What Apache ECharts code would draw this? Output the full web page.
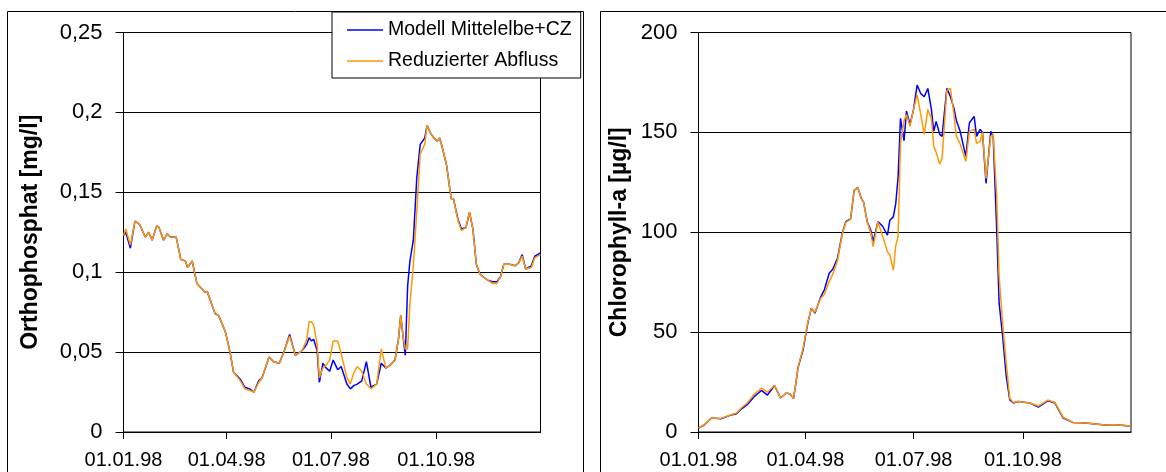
<!DOCTYPE html>
<html>
<head>
<meta charset="utf-8">
<title>Orthophosphat / Chlorophyll-a</title>
<script src="https://cdn.jsdelivr.net/npm/echarts/dist/echarts.min.js"></script>
<style>
    html,body{margin:0;padding:0;background:#fff;}
    #main{width:1166px;height:472px;}
</style>
</head>
<body>
<div id="main"></div>
<script>
// x-Achse: Tag im Jahr 1998 (0 = 01.01.98)
var tickDays = [0, 90, 181, 273];
var tickLabels = ['01.01.98', '01.04.98', '01.07.98', '01.10.98'];
var seriesNames = ['Modell Mittelelbe+CZ', 'Reduzierter Abfluss'];

// Orthophosphat [mg/l]
var phDays = [0, 2, 6, 10, 14, 19, 22, 25, 29, 31, 35, 38, 41, 46, 50, 54, 56, 60, 64, 68, 71, 73, 80, 83, 89, 93, 96, 102, 106, 110, 114, 118, 121, 127, 131, 136, 140, 145, 150, 156, 160, 162, 164, 166, 169, 171, 174, 177, 180, 183, 187, 190, 195, 198, 201, 204, 208, 212, 216, 221, 225, 229, 233, 237, 240, 242, 244, 246, 248, 250, 253, 256, 259, 263, 265, 268, 271, 274, 276, 279, 282, 286, 288, 292, 295, 299, 302, 305, 308, 311, 314, 318, 322, 326, 329, 332, 337, 342, 345, 348, 351, 356, 359, 364];
var phModell = [0.123, 0.125, 0.115, 0.132, 0.130, 0.122, 0.125, 0.120, 0.129, 0.128, 0.120, 0.124, 0.122, 0.122, 0.108, 0.107, 0.103, 0.107, 0.093, 0.090, 0.0875, 0.088, 0.074, 0.073, 0.0625, 0.050, 0.0375, 0.033, 0.028, 0.027, 0.025, 0.032, 0.034, 0.047, 0.044, 0.043, 0.050, 0.061, 0.048, 0.051, 0.055, 0.059, 0.057, 0.058, 0.051, 0.031, 0.043, 0.040, 0.038, 0.045, 0.039, 0.041, 0.030, 0.027, 0.029, 0.030, 0.032, 0.044, 0.028, 0.030, 0.043, 0.040, 0.042, 0.045, 0.058, 0.073, 0.060, 0.048, 0.091, 0.107, 0.120, 0.159, 0.180, 0.184, 0.192, 0.187, 0.184, 0.182, 0.184, 0.176, 0.167, 0.146, 0.146, 0.133, 0.127, 0.128, 0.1375, 0.127, 0.105, 0.099, 0.097, 0.095, 0.094, 0.094, 0.097, 0.105, 0.105, 0.104, 0.106, 0.111, 0.102, 0.104, 0.110, 0.112];
var phReduziert = [0.123, 0.127, 0.117, 0.132, 0.130, 0.122, 0.125, 0.120, 0.129, 0.128, 0.120, 0.124, 0.122, 0.122, 0.108, 0.107, 0.103, 0.107, 0.093, 0.090, 0.0875, 0.088, 0.074, 0.073, 0.0625, 0.050, 0.0375, 0.032, 0.027, 0.026, 0.025, 0.031, 0.034, 0.047, 0.044, 0.043, 0.050, 0.060, 0.048, 0.051, 0.058, 0.069, 0.069, 0.067, 0.055, 0.034, 0.040, 0.042, 0.045, 0.057, 0.057, 0.049, 0.034, 0.030, 0.037, 0.041, 0.038, 0.030, 0.027, 0.030, 0.052, 0.040, 0.042, 0.045, 0.058, 0.073, 0.060, 0.052, 0.052, 0.080, 0.104, 0.138, 0.174, 0.180, 0.192, 0.187, 0.184, 0.182, 0.184, 0.176, 0.167, 0.146, 0.146, 0.132, 0.126, 0.128, 0.1375, 0.127, 0.105, 0.099, 0.097, 0.095, 0.093, 0.093, 0.097, 0.105, 0.105, 0.104, 0.106, 0.110, 0.102, 0.103, 0.109, 0.111];

// Chlorophyll-a [µg/l]
var chlDays = [0, 5, 11, 19, 26, 32, 36, 41, 47, 53, 58, 64, 69, 74, 77, 80, 84, 88, 92, 95, 98, 103, 106, 110, 113, 117, 121, 124, 128, 131, 134, 137, 139, 142, 145, 147, 151, 155, 159, 161, 164, 166, 168, 170, 173, 175, 178, 181, 184, 187, 190, 193, 196, 198, 200, 203, 205, 209, 212, 215, 217, 220, 225, 228, 232, 234, 237, 239, 242, 246, 248, 251, 253, 256, 259, 262, 265, 269, 279, 286, 294, 300, 307, 315, 326, 342, 350, 364];
var chlModell = [2, 3.6, 7, 6.6, 8.2, 9.1, 11.5, 13.7, 17.8, 20.8, 18.5, 23.3, 17, 19.5, 19, 16.7, 32.8, 41, 54.5, 62, 59.5, 67.8, 71.3, 79.5, 81.5, 87, 99.5, 105.3, 106.7, 121, 122.5, 117, 115, 105.3, 101, 95.3, 105.3, 103, 98.5, 106, 107.7, 114.3, 127.8, 157, 145.8, 160.7, 154, 161.5, 173.7, 169.5, 167.8, 172, 161.5, 150.5, 155.5, 149, 148, 172, 168, 162, 156, 151, 138, 154.8, 158, 148, 151.5, 150, 124.5, 150.5, 148, 101, 64.5, 47.8, 27.8, 16, 14.5, 15.3, 14.5, 12.5, 15.6, 14.5, 7, 4.8, 4.5, 3.5, 3.6, 3];
var chlReduziert = [2, 3.8, 7, 6.8, 8.4, 9.5, 12, 14.5, 19, 22, 20, 23.3, 17, 19.5, 19, 16.7, 33, 42, 55, 62, 60, 67, 69, 75.3, 79, 85.8, 99, 105, 106.5, 121, 122.5, 117, 115, 105, 99.6, 92.8, 105.3, 98, 90.3, 88.7, 81, 93.3, 98, 144.5, 155.8, 159, 153, 161.5, 168.8, 159, 149, 161.5, 157, 143, 140, 134.2, 137, 171, 172, 159, 148, 144.5, 135.5, 150.5, 151.5, 144.5, 145.5, 150, 127, 148, 149, 118, 78, 54.5, 34.5, 16.8, 14.8, 15.3, 14.5, 13, 16, 14.8, 7.3, 4.8, 4.5, 3.5, 3.6, 3];

var colors = ['#0000ff', '#ff9900'];
var fontFam = '"Liberation Sans", Arial, sans-serif';

function pairs(days, vals){
    var out = [];
    for(var i = 0; i < days.length; i++){
        out.push([days[i], vals[i]]);
    }
    return out;
}

function dayLabel(v){
    var i = tickDays.indexOf(v);
    return i >= 0 ? tickLabels[i] : '';
}

function xAxisCfg(gridIndex){
    return {
        type: 'value',
        gridIndex: gridIndex,
        min: 0,
        max: 364,
        axisLine: {show: true, lineStyle: {color: '#000', width: 1}},
        axisTick: {show: true, length: 7, customValues: tickDays, lineStyle: {color: '#000'}},
        axisLabel: {customValues: tickDays, formatter: dayLabel, margin: 18,
            color: '#000', fontSize: 20, fontFamily: fontFam},
        splitLine: {show: false}
    };
}

function yAxisCfg(gridIndex, max, interval, name, gap, fmt){
    return {
        type: 'value',
        gridIndex: gridIndex,
        min: 0,
        max: max,
        interval: interval,
        name: name,
        nameLocation: 'middle',
        nameGap: gap,
        nameTextStyle: {color: '#000', fontSize: 23, fontWeight: 'bold', fontFamily: fontFam},
        axisLine: {show: true, lineStyle: {color: '#000', width: 1}},
        axisTick: {show: true, length: 8, lineStyle: {color: '#000'}},
        axisLabel: {margin: 21, color: '#000', fontSize: 22, fontFamily: fontFam, formatter: fmt},
        splitLine: {show: true, lineStyle: {color: '#000', width: 1}}
    };
}

function lineSeries(name, xi, data, color, z){
    return {
        name: name,
        type: 'line',
        xAxisIndex: xi,
        yAxisIndex: xi,
        data: data,
        symbol: 'none',
        smooth: false,
        z: z,
        lineStyle: {color: color, width: 1.5},
        itemStyle: {color: color}
    };
}

var myChart = echarts.init(document.getElementById('main'), null, {renderer: 'canvas'});
var option = {
    backgroundColor: '#fff',
    animation: false,
    color: colors,
    graphic: [
        // Rahmen links / rechts
        {type: 'rect', z: -10, shape: {x: 7.5, y: 11.5, width: 576, height: 500},
            style: {fill: '#fff', stroke: '#000', lineWidth: 1}},
        {type: 'rect', z: -10, shape: {x: 600.5, y: 11.5, width: 600, height: 500},
            style: {fill: '#fff', stroke: '#000', lineWidth: 1}}
    ],
    legend: {
        left: 332,
        top: 12,
        orient: 'vertical',
        data: seriesNames,
        icon: 'rect',
        backgroundColor: '#fff',
        borderColor: '#000',
        borderWidth: 1,
        padding: [8, 9, 7, 15],
        itemGap: 11,
        itemWidth: 36,
        itemHeight: 1.5,
        itemTextGap: 5,
        textStyle: {color: '#000', fontSize: 19.5, fontFamily: fontFam, lineHeight: 20},
        selectedMode: false,
        z: 20
    },
    grid: [
        {left: 123.5, top: 32.5, width: 417, height: 399.5, show: true, borderColor: '#000', borderWidth: 1, backgroundColor: 'transparent'},
        {left: 698.5, top: 32.5, width: 432.5, height: 399.5, show: true, borderColor: '#000', borderWidth: 1, backgroundColor: 'transparent'}
    ],
    xAxis: [xAxisCfg(0), xAxisCfg(1)],
    yAxis: [
        yAxisCfg(0, 0.25, 0.05, 'Orthophosphat [mg/l]', 81, function(v){
            return String(parseFloat(v.toFixed(2))).replace('.', ',');
        }),
        yAxisCfg(1, 200, 50, 'Chlorophyll-a [µg/l]', 67, function(v){ return String(v); })
    ],
    series: [
        lineSeries(seriesNames[0], 0, pairs(phDays, phModell), colors[0], 3),
        lineSeries(seriesNames[1], 0, pairs(phDays, phReduziert), colors[1], 4),
        lineSeries(seriesNames[0], 1, pairs(chlDays, chlModell), colors[0], 3),
        lineSeries(seriesNames[1], 1, pairs(chlDays, chlReduziert), colors[1], 4)
    ]
};
myChart.setOption(option);
</script>
</body>
</html>
